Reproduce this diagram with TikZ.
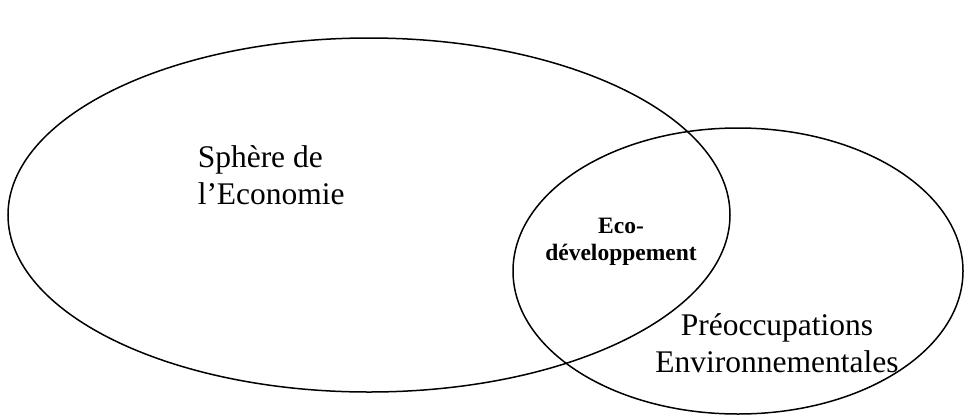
\documentclass[tikz,border=0pt]{standalone}
\usepackage{fontspec}
\setmainfont{Liberation Serif}
\usepackage{tikz}

\begin{document}
\begin{tikzpicture}[x=1pt, y=-1pt, line width=1.5pt,
		big/.style={font=\fontsize{31.5}{37}\selectfont, inner sep=0pt},
		small/.style={font=\fontsize{23.5}{27}\selectfont\bfseries, inner sep=0pt, align=center}]
		\useasboundingbox (0, 0) rectangle (964, 416);

		\draw (369, 215) ellipse (361pt and 177pt);
		\draw (738, 271) ellipse (225pt and 143pt);

		\node[big, align=left, anchor=base west] (economie) at (197, 204) {Sphère de\\l’Economie};
		\node[small, anchor=base] (ecodev) at (621, 260) {Eco-\\développement};
		\node[big, align=center, anchor=base] (environ) at (777, 372) {Préoccupations\\Environnementales};
	\end{tikzpicture}
\end{document}
